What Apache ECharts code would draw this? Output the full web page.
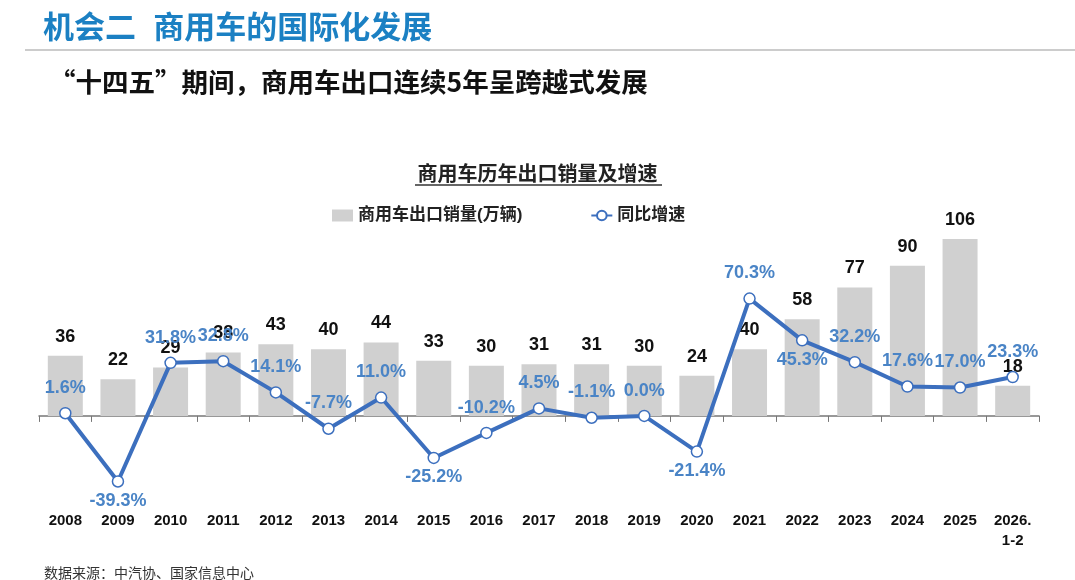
<!DOCTYPE html>
<html>
<head>
<meta charset="utf-8">
<script src="https://cdn.jsdelivr.net/npm/echarts@6/dist/echarts.min.js"></script>
<style>
  html, body { margin: 0; padding: 0; background: #fff; }
  #main { width: 1075px; height: 580px; }
</style>
</head>
<body>
<div id="main"></div>
<script>
// 数据
var years = ['2008', '2009', '2010', '2011', '2012', '2013', '2014', '2015', '2016', '2017',
             '2018', '2019', '2020', '2021', '2022', '2023', '2024', '2025', '2026.\n1-2'];
var exportVolume = [36, 22, 29, 38, 43, 40, 44, 33, 30, 31, 31, 30, 24, 40, 58, 77, 90, 106, 18];
var growthRate = [1.6, -39.3, 31.8, 32.8, 14.1, -7.7, 11.0, -25.2, -10.2, 4.5,
                  -1.1, 0.0, -21.4, 70.3, 45.3, 32.2, 17.6, 17.0, 23.3];

// 增速标签放在点下方的年份(下标)
var labelBelow = [1, 7, 12, 14];

var font = '"Liberation Sans", "Noto Sans CJK SC", sans-serif';
var cjkFont = '"Noto Sans CJK SC", sans-serif';
var blue = '#3c6fbe';

var growthData = growthRate.map(function (v, i) {
    var below = labelBelow.indexOf(i) >= 0;
    return {
        value: v,
        label: { position: below ? 'bottom' : 'top', distance: below ? 4 : 10 }
    };
});

var myChart = echarts.init(document.getElementById('main'));
var option = {
    backgroundColor: '#fff',
    textStyle: { fontFamily: font },
    title: [
        {
            text: '机会二  商用车的国际化发展',
            left: 38, top: 9,
            textStyle: { color: '#1b80c3', fontSize: 31, fontWeight: 'bold', fontFamily: font }
        },
        {
            text: '“十四五”期间，商用车出口连续5年呈跨越式发展',
            left: 44, top: 64,
            textStyle: { color: '#111', fontSize: 26.5, fontWeight: 'bold', fontFamily: cjkFont }
        },
        {
            text: '商用车历年出口销量及增速',
            left: 'center', top: 160,
            textStyle: { color: '#222', fontSize: 20, fontWeight: 'bold', fontFamily: font }
        },
        {
            text: '数据来源：中汽协、国家信息中心',
            left: 39, top: 561,
            textStyle: { color: '#333', fontSize: 14, fontWeight: 'normal', fontFamily: cjkFont }
        }
    ],
    graphic: [
        { type: 'line', shape: { x1: 25, y1: 50, x2: 1075, y2: 50 }, style: { stroke: '#bbb', lineWidth: 1.5 } },
        { type: 'line', shape: { x1: 415, y1: 185, x2: 662, y2: 185 }, style: { stroke: '#333', lineWidth: 1.5 } }
    ],
    legend: {
        top: 202, left: 327,
        itemGap: 68,
        itemWidth: 21, itemHeight: 12,
        textStyle: { color: '#222', fontSize: 17, fontWeight: 'bold', fontFamily: font },
        data: [
            { name: '商用车出口销量(万辆)', icon: 'rect' },
            { name: '同比增速' }
        ]
    },
    grid: { left: 39, right: 36, top: 199, bottom: 74 },
    xAxis: [
        {
            type: 'category',
            data: years,
            axisLine: { onZero: true, lineStyle: { color: '#777', width: 1.5 } },
            axisTick: { show: true, inside: false, length: 6, lineStyle: { color: '#777' } },
            axisLabel: { show: false }
        },
        {
            type: 'category',
            data: years,
            position: 'bottom',
            axisLine: { show: false, onZero: false },
            axisTick: { show: false },
            axisLabel: { margin: 5, color: '#111', fontSize: 15, fontWeight: 'bold', lineHeight: 20, fontFamily: font }
        }
    ],
    yAxis: {
        type: 'value',
        min: -54, max: 130,
        show: false,
        splitLine: { show: false }
    },
    series: [
        {
            name: '商用车出口销量(万辆)',
            type: 'bar',
            data: exportVolume,
            barWidth: 35,
            itemStyle: { color: '#d0d0d0' },
            label: {
                show: true, position: 'top', distance: 10,
                color: '#111', fontSize: 18, fontWeight: 'bold', fontFamily: font
            },
            z: 2
        },
        {
            name: '同比增速',
            type: 'line',
            data: growthData,
            symbol: 'circle', symbolSize: 11,
            lineStyle: { color: blue, width: 4 },
            itemStyle: { color: '#fff', borderColor: blue, borderWidth: 1.5 },
            label: {
                show: true,
                color: '#4a84c6', fontSize: 18, fontWeight: 'bold', fontFamily: font,
                formatter: function (p) { return p.value.toFixed(1) + '%'; }
            },
            z: 3
        }
    ]
};
myChart.setOption(option);
</script>
</body>
</html>
